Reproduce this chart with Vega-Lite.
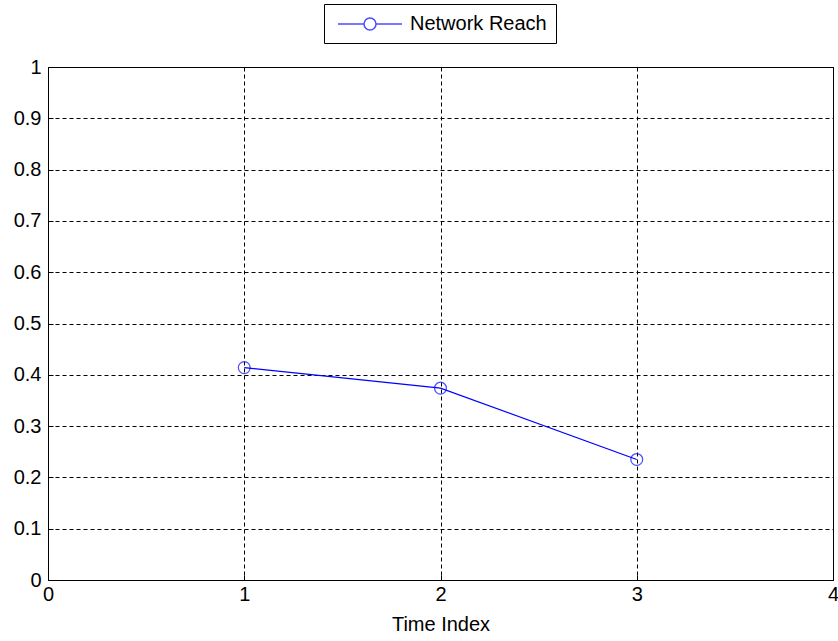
{
  "$schema": "https://vega.github.io/schema/vega-lite/v6.json",
  "width": 785,
  "height": 513,
  "autosize": {"type": "none"},
  "padding": {"left": 48, "top": 67, "right": 5, "bottom": 61},
  "background": "white",
  "config": {
    "font": "Liberation Sans",
    "view": {"stroke": "black", "strokeWidth": 1},
    "axis": {
      "domain": false,
      "grid": true,
      "gridColor": "black",
      "gridDash": [4, 3],
      "gridOpacity": 1,
      "gridWidth": 1,
      "ticks": true,
      "tickColor": "black",
      "tickSize": -5,
      "labelFont": "Liberation Sans",
      "labelFontSize": 20,
      "labelColor": "black",
      "titleFont": "Liberation Sans",
      "titleFontSize": 20,
      "titleFontWeight": "normal",
      "titleColor": "black"
    }
  },
  "data": {
    "values": [
      {"t": 1, "reach": 0.414, "series": "Network Reach"},
      {"t": 2, "reach": 0.374, "series": "Network Reach"},
      {"t": 3, "reach": 0.235, "series": "Network Reach"}
    ]
  },
  "encoding": {
    "x": {
      "field": "t",
      "type": "quantitative",
      "scale": {"domain": [0, 4], "nice": false},
      "axis": {"values": [0, 1, 2, 3, 4], "format": "~g", "title": "Time Index", "labelPadding": 9, "titlePadding": 10, "labelFlush": false}
    },
    "y": {
      "field": "reach",
      "type": "quantitative",
      "scale": {"domain": [0, 1], "nice": false},
      "axis": {"values": [0, 0.1, 0.2, 0.3, 0.4, 0.5, 0.6, 0.7, 0.8, 0.9, 1], "format": "~g", "title": null, "labelPadding": 12, "labelFlush": false}
    },
    "color": {
      "field": "series",
      "type": "nominal",
      "scale": {"range": ["#0000ff"]},
      "legend": {
        "title": null,
        "orient": "none",
        "legendX": 276,
        "legendY": -63,
        "direction": "horizontal",
        "strokeColor": "black",
        "fillColor": "white",
        "padding": 9,
        "labelFontSize": 20,
        "labelFont": "Liberation Sans",
        "labelColor": "black",
        "symbolType": "M-3.2,0H-0.6M0.6,0H3.2M-0.6,0A0.6,0.6 0 1,0 0.6,0A0.6,0.6 0 1,0 -0.6,0",
        "symbolSize": 400,
        "symbolStrokeWidth": 1.5,
        "symbolFillColor": "transparent",
        "symbolStrokeColor": "#0000ff",
        "symbolOffset": 26,
        "labelOffset": 29
      }
    }
  },
  "layer": [
    {"mark": {"type": "line", "strokeWidth": 1.2}},
    {"mark": {"type": "point", "shape": "circle", "filled": false, "size": 140, "strokeWidth": 1.2}}
  ]
}
